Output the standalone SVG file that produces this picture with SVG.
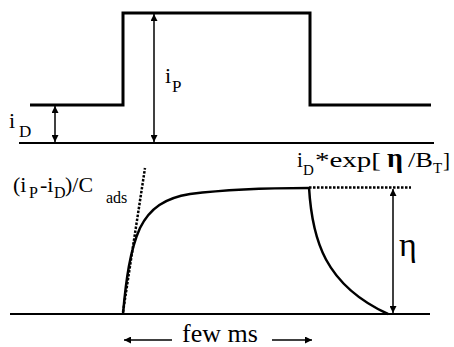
<svg xmlns="http://www.w3.org/2000/svg" width="454" height="347" viewBox="0 0 454 347">
<style>
text{font-family:"Liberation Serif","Times New Roman",serif;fill:#000}
.thick{fill:none;stroke:#000;stroke-width:3}
.base{fill:none;stroke:#000;stroke-width:2}
.arr{fill:none;stroke:#000;stroke-width:1.5}
.dot{fill:none;stroke:#000;stroke-width:2.5;stroke-dasharray:2.5 1.5}
</style>
<defs>
<marker id="ah" viewBox="0 0 10 10" refX="10" refY="5" markerWidth="9" markerHeight="7" markerUnits="userSpaceOnUse" orient="auto-start-reverse">
<path d="M0,0 L10,5 L0,10 Z" fill="#000"/>
</marker>
</defs>
<rect width="454" height="347" fill="#fff"/>
<g id="pulse">
<path class="thick" d="M30,105 H123 V13 H310 V105 H431"/>
</g>
<g id="top-baseline">
<line class="base" x1="19" y1="143" x2="434" y2="143"/>
</g>
<g id="response">
<line class="base" x1="10" y1="314" x2="430" y2="314"/>
<path class="thick" style="stroke-width:2.5" d="M123,314 C126,280 130,250 140,228 C150,208 165,198 190,194 C230,189 270,188 309,188"/>
<path class="thick" style="stroke-width:2.5" d="M309,187 C312,240 325,285 388,314"/>
</g>
<g id="connectors">
<line class="arr" x1="55" y1="106" x2="55" y2="142" marker-start="url(#ah)" marker-end="url(#ah)"/>
<line class="arr" x1="154" y1="14" x2="154" y2="142" marker-start="url(#ah)" marker-end="url(#ah)"/>
<line class="arr" x1="393" y1="189" x2="393" y2="313" marker-start="url(#ah)" marker-end="url(#ah)"/>
<line class="dot" x1="123" y1="312" x2="145" y2="168"/>
<line class="dot" x1="309" y1="187.5" x2="411" y2="187.5"/>
<line class="arr" x1="172" y1="340" x2="124" y2="340" marker-end="url(#ah)"/>
<line class="arr" x1="272" y1="340" x2="312" y2="340" marker-end="url(#ah)"/>
</g>
<g id="labels">
<text x="9" y="128" font-size="22">i<tspan x="19" y="137" font-size="17">D</tspan></text>
<text x="165" y="83" font-size="22">i<tspan x="172" y="92" font-size="17">P</tspan></text>
<text y="192" font-size="22"><tspan x="13">(i</tspan><tspan x="29" y="198" font-size="16">P</tspan><tspan x="40" y="192">-i</tspan><tspan x="54" y="198" font-size="16">D</tspan><tspan x="65" y="192" textLength="28" lengthAdjust="spacingAndGlyphs">)/C</tspan><tspan x="106" y="203" font-size="16">ads</tspan></text>
<text y="167" font-size="21"><tspan x="297">i</tspan><tspan x="303" y="175" font-size="15">D</tspan><tspan x="315" y="167" textLength="66" lengthAdjust="spacingAndGlyphs">*exp[</tspan><tspan x="387" font-size="28" font-weight="bold">η</tspan><tspan x="408" textLength="25" lengthAdjust="spacingAndGlyphs">/B</tspan><tspan x="433" y="173" font-size="15">T</tspan><tspan x="443" y="167">]</tspan></text>
<text x="399" y="256" font-size="34">η</text>
<text x="220" y="342" font-size="26" text-anchor="middle">few ms</text>
</g>
</svg>
